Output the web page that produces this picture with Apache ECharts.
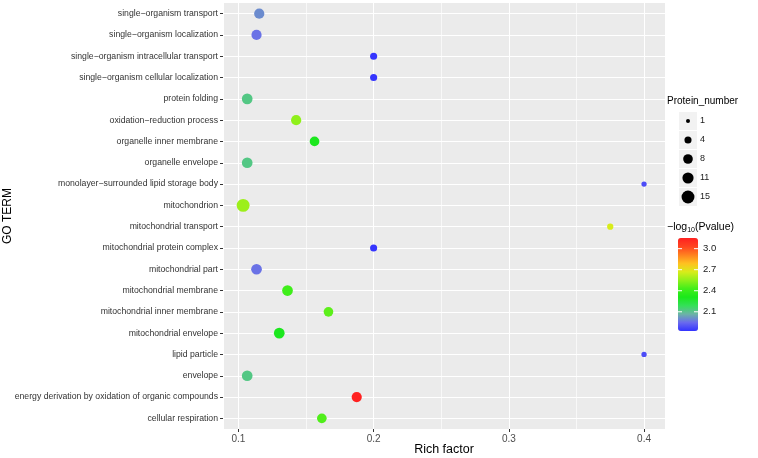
<!DOCTYPE html>
<html><head><meta charset="utf-8">
<script src="https://cdn.jsdelivr.net/npm/echarts@6/dist/echarts.min.js"></script>
<style>html,body{margin:0;padding:0;background:#fff}#c{width:758px;height:458px}</style>
</head><body><div id="c"></div>
<script>
const categories = [
  'single−organism transport',
  'single−organism localization',
  'single−organism intracellular transport',
  'single−organism cellular localization',
  'protein folding',
  'oxidation−reduction process',
  'organelle inner membrane',
  'organelle envelope',
  'monolayer−surrounded lipid storage body',
  'mitochondrion',
  'mitochondrial transport',
  'mitochondrial protein complex',
  'mitochondrial part',
  'mitochondrial membrane',
  'mitochondrial inner membrane',
  'mitochondrial envelope',
  'lipid particle',
  'envelope',
  'energy derivation by oxidation of organic compounds',
  'cellular respiration'
];
const richFactor = [0.1154, 0.1134, 0.2, 0.2, 0.1065, 0.1427, 0.1563, 0.1065, 0.4, 0.1035,
                    0.375, 0.2, 0.1134, 0.1363, 0.1666, 0.1302, 0.4, 0.1065, 0.1875, 0.1617];
const negLog10P = [2.0, 1.96, 1.83, 1.83, 2.12, 2.55, 2.3, 2.12, 1.88, 2.57,
                   2.67, 1.83, 1.96, 2.42, 2.47, 2.3, 1.88, 2.12, 3.15, 2.45];
const proteinNumber = [9, 9, 4, 4, 10, 9, 8, 10, 2, 15,
                       3, 4, 10, 10, 8, 10, 2, 10, 9, 8];
const xLabelValues = [0.1, 0.2, 0.3, 0.4];
const sizeLegendValues = [1, 4, 8, 11, 15];
const colorTickValues = [3.0, 2.7, 2.4, 2.1];
const colorMin = 1.826, colorMax = 3.152;
const colorStops = ['#3333ff', '#6a6aee', '#6cb4a6', '#34e058', '#1ae81a', '#42ee1a',
                    '#8ff01a', '#d8ec1a', '#ffc020', '#ff8020', '#ff4420', '#ff2020'];

function dotSize(n) { return 4 + (Math.sqrt(n) - 1) * 3.1; }

const FONT = 'Liberation Sans, Arial, Helvetica, sans-serif';
const chart = echarts.init(document.getElementById('c'), null, {renderer: 'canvas'});

const barTop = 238, barH = 93, barLeft = 678, barW = 20;
const graphics = [];
graphics.push({type: 'text', x: 2, y: 216, rotation: Math.PI / 2,
  style: {text: 'GO TERM', font: '12px ' + FONT, fill: '#000', align: 'center', verticalAlign: 'top'}});
graphics.push({type: 'text', x: 444, y: 443,
  style: {text: 'Rich factor', font: '12.5px ' + FONT, fill: '#000', align: 'center', verticalAlign: 'top'}});
graphics.push({type: 'text', x: 667, y: 96,
  style: {text: 'Protein_number', font: '10px ' + FONT, fill: '#000'}});
sizeLegendValues.forEach((n, i) => {
  const cy = 121 + 19 * i;
  graphics.push({type: 'rect', shape: {x: 679, y: cy - 9, width: 18, height: 18}, style: {fill: '#F2F2F2'}});
  graphics.push({type: 'circle', shape: {cx: 688, cy: cy, r: dotSize(n) / 2}, style: {fill: '#000'}});
  graphics.push({type: 'text', x: 700, y: cy, style: {text: String(n), font: '9px ' + FONT, fill: '#1a1a1a', verticalAlign: 'middle'}});
});
graphics.push({type: 'text', x: 667, y: 220,
  style: {text: '{a|−log}{b|10}{a|(Pvalue)}', font: '10px ' + FONT, fill: '#000',
    rich: {a: {fontSize: 10.5, fontFamily: FONT, lineHeight: 14},
           b: {fontSize: 7, fontFamily: FONT, lineHeight: 8, verticalAlign: 'bottom'}}}});
colorTickValues.forEach(v => {
  const y = barTop + (colorMax - v) / (colorMax - colorMin) * barH;
  graphics.push({type: 'line', z: 100, shape: {x1: barLeft, y1: y, x2: barLeft + 4, y2: y}, style: {stroke: '#fff', lineWidth: 1}});
  graphics.push({type: 'line', z: 100, shape: {x1: barLeft + barW - 4, y1: y, x2: barLeft + barW, y2: y}, style: {stroke: '#fff', lineWidth: 1}});
  graphics.push({type: 'text', x: 703, y: y, style: {text: v.toFixed(1), font: '9.5px ' + FONT, fill: '#1a1a1a', verticalAlign: 'middle'}});
});

const xMin = 0.0886, xMax = 0.4155;
const option = {
  animation: false,
  backgroundColor: '#fff',
  grid: {left: 223, right: 93, top: 3, bottom: 29, show: true, backgroundColor: '#EBEBEB', borderWidth: 0},
  xAxis: [{
    type: 'value', min: xMin, max: xMax, splitNumber: 6, position: 'bottom',
    axisLine: {show: false}, axisTick: {show: false}, axisLabel: {show: false},
    splitLine: {show: true, lineStyle: {color: ['#ffffff', '#ffffff', '#F8F8F8', '#ffffff', '#F8F8F8', '#ffffff', '#F8F8F8', '#ffffff', '#ffffff'], width: 1}}
  }, {
    type: 'value', min: xMin, max: xMax, position: 'bottom', offset: 0,
    axisLine: {show: false},
    axisTick: {show: true, customValues: xLabelValues, length: 3, lineStyle: {color: '#333'}},
    axisLabel: {customValues: xLabelValues, formatter: v => v.toFixed(1), color: '#4D4D4D', fontSize: 10, fontFamily: FONT, margin: 5},
    splitLine: {show: false}
  }],
  yAxis: {
    type: 'category', data: categories, inverse: true,
    axisLine: {show: false},
    axisTick: {show: true, alignWithLabel: true, interval: 0, length: 3, lineStyle: {color: '#333'}},
    axisLabel: {interval: 0, color: '#333333', fontSize: 8.7, fontFamily: FONT, margin: 5},
    splitLine: {show: false}
  },
  visualMap: {
    type: 'continuous', min: colorMin, max: colorMax, dimension: 2, seriesIndex: 0,
    left: barLeft, top: barTop, itemWidth: barW, itemHeight: barH, padding: 0,
    calculable: false, hoverLink: false,
    inRange: {color: colorStops}
  },
  series: [{
    type: 'scatter', xAxisIndex: 0,
    data: categories.map((c, i) => [richFactor[i], c, negLog10P[i], proteinNumber[i]]),
    encode: {x: 0, y: 1},
    symbolSize: v => dotSize(v[3]),
    itemStyle: {opacity: 1},
    markLine: {
      silent: true, z: 1, symbol: ['none', 'none'], label: {show: false},
      lineStyle: {color: '#ffffff', width: 1, type: 'solid'},
      data: categories.map(c => ({yAxis: c}))
    }
  }],
  graphic: graphics
};
chart.setOption(option);
</script></body></html>
